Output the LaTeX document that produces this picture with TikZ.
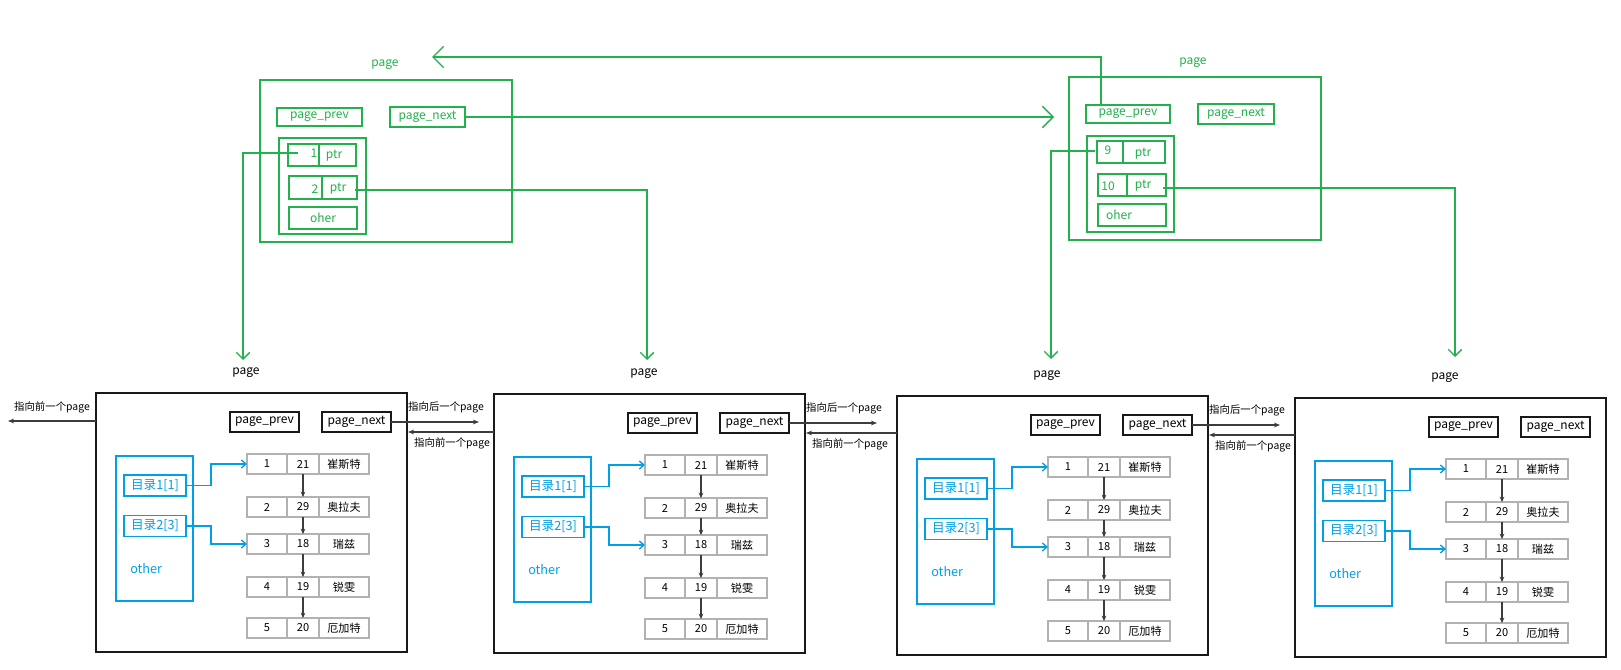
\documentclass[tikz,border=0pt]{standalone}
\usepackage{fontspec}
\setmainfont{Noto Sans CJK SC}
\usetikzlibrary{arrows.meta}
\definecolor{gr}{RGB}{34,177,76}
\definecolor{bl}{RGB}{0,160,230}
\definecolor{dk}{RGB}{60,60,60}
\begin{document}
\begin{tikzpicture}[x=0.75pt,y=-0.75pt,
  box/.style 2 args={draw, minimum width=#1*0.75pt, minimum height=#2*0.75pt, inner sep=0pt, outer sep=0pt},
  blk/.style={line width=1.4pt, draw=black!90},
  gbox/.style={draw=gr, line width=1.3pt, text=gr},
  bbox/.style={draw=bl, line width=1.3pt, text=bl},
  cell/.style={draw=black!30, line width=0.8pt, path picture={\draw[black!62,line width=1.8pt] (path picture bounding box.south west) -- (path picture bounding box.south east) -- (path picture bounding box.north east);}},
  lbl/.style={font=\fontsize{9}{10}\selectfont},
  blbl/.style={font=\fontsize{9.5}{10}\selectfont},
  small/.style={font=\fontsize{7.8}{9}\selectfont},
  tsmall/.style={font=\fontsize{8.3}{9}\selectfont},
  garr/.style={draw=gr, line width=1pt, -{Straight Barb[length=5pt,width=10pt]}},
  gbig/.style={draw=gr, line width=1pt, -{Straight Barb[length=8pt,width=16pt]}},
  barr/.style={draw=bl, line width=1pt, -{Straight Barb[length=3.5pt,width=6pt]}},
  darr/.style={draw=dk, line width=0.8pt, -{Stealth[length=4pt,width=3.5pt]}},
  karr/.style={draw=dk, line width=1pt, -{Stealth[length=4.5pt,width=3.5pt]}},
]
\fill[white] (0,0) rectangle (1621,670);
\useasboundingbox (0,0) rectangle (1621,670);

% ---------- bottom pages ----------
\foreach \i/\dx/\dy in {1/0/0,2/398/1,3/801/3,4/1199/5}{
 \begin{scope}[shift={(\dx,\dy)}]
  \node[box={311}{259}, blk] (p\i) at (251.5,522.5) {};
  \node[lbl] (p\i-lbl) at (246,373) {page};
  \node[box={69}{20}, blk, lbl] (p\i-prev) at (264.5,422) {page\_prev};
  \node[box={69}{20}, blk, lbl] (p\i-next) at (356.5,422) {page\_next};
  \node[box={77}{145}, bbox] (p\i-dir) at (154.5,528.5) {};
  \node[box={62}{21}, bbox, blbl] (p\i-d1) at (155,485.5) {目录1[1]};
  \node[box={62}{21}, bbox, blbl] (p\i-d2) at (155,526) {目录2[3]};
  \node[blbl, text=bl, anchor=west, inner sep=0pt] (p\i-oth) at (130,569) {other};
  \foreach \j/\ry/\n/\s/\nm in {1/464/1/21/崔斯特,2/507/2/29/奥拉夫,3/544/3/18/瑞兹,4/587/4/19/锐雯,5/628/5/20/厄加特}{
    \node[box={40}{20}, cell, tsmall] (p\i-r\j-a) at (267,\ry) {\n};
    \node[box={32}{20}, cell, tsmall] (p\i-r\j-b) at (303,\ry) {\s};
    \node[box={50}{20}, cell, tsmall] (p\i-r\j-c) at (344,\ry) {\nm};
  }
  \coordinate (p\i-fw) at (479,422);
  \coordinate (p\i-bk) at (408,432);
 \end{scope}
}

\foreach \i in {1,2,3,4}{
  \foreach \j/\k in {1/2,2/3,3/4,4/5}
    \draw[darr] (p\i-r\j-b.south) -- (p\i-r\k-b.north);
  \draw[barr] (p\i-d1.east) -- ++(25,0) |- (p\i-r1-a.west);
  \draw[barr] (p\i-d2.east) -- ++(25,0) |- (p\i-r3-a.west);
}

\foreach \i/\k/\dx/\dy in {1/2/0/0,2/3/398/1,3/4/801/3}{
  \draw[karr] (p\i-next.east) -- (p\i-fw);
  \draw[karr] (p\k.west |- p\i-bk) -- (p\i-bk);
  \node[small] (n\i-fwl) at (446+\dx,407+\dy) {指向后一个page};
  \node[small] (n\i-bkl) at (452+\dx,443+\dy) {指向前一个page};
}
\node[small] (l0) at (52,407) {指向前一个page};
\coordinate (l0end) at (8,421);
\draw[karr] (p1.west |- l0end) -- (l0end);

% ---------- green page 1 ----------
\node[lbl, text=gr] (g1-lbl) at (385,65) {page};
\node[box={252}{162}, gbox] (g1) at (386,161) {};
\node[box={85}{18}, gbox, lbl] (g1-prev) at (319.5,117) {page\_prev};
\node[box={75}{20}, gbox, lbl] (g1-next) at (427.5,117) {page\_next};
\node[box={87}{96}, gbox] (g1-in) at (322.5,186) {};
\node[box={68}{22}, gbox] (g1-r1) at (322,155) {};
\draw[gr, line width=1pt] (319,145) -- (319,165);
\node[lbl, text=gr] (g1-r1n) at (314,153) {1};
\node[lbl, text=gr] (g1-r1p) at (334,156) {ptr};
\node[box={68}{23}, gbox] (g1-r2) at (323,187.5) {};
\draw[gr, line width=1pt] (322,177) -- (322,198);
\node[lbl, text=gr] (g1-r2n) at (315,189) {2};
\node[lbl, text=gr] (g1-r2p) at (338,189) {ptr};
\node[box={68}{22}, gbox, lbl] (g1-oh) at (323,218) {oher};

% ---------- green page 2 ----------
\node[lbl, text=gr] (g2-lbl) at (1193,63) {page};
\node[box={252}{163}, gbox] (g2) at (1195,158.5) {};
\node[box={84}{18}, gbox, lbl] (g2-prev) at (1128,114) {page\_prev};
\node[box={76}{20}, gbox, lbl] (g2-next) at (1236,114) {page\_next};
\node[box={87}{96}, gbox] (g2-in) at (1130.5,184) {};
\node[box={68}{22}, gbox] (g2-r1) at (1131,152) {};
\draw[gr, line width=1pt] (1123,142) -- (1123,162);
\node[lbl, text=gr] (g2-r1n) at (1108,150) {9};
\node[lbl, text=gr] (g2-r1p) at (1143,154) {ptr};
\node[box={68}{22}, gbox] (g2-r2) at (1132,185) {};
\draw[gr, line width=1pt] (1127,175) -- (1127,195);
\node[lbl, text=gr] (g2-r2n) at (1108,186) {10};
\node[lbl, text=gr] (g2-r2p) at (1143,186) {ptr};
\node[box={68}{22}, gbox] (g2-oh) at (1132,215) {};
\node[lbl, text=gr] (g2-oht) at (1119,215) {oher};

% ---------- green connectors ----------
\coordinate (g1-s1) at (298,153);
\coordinate (g1-t1) at (243,360);
\draw[garr] (g1-s1) -| (g1-t1);
\coordinate (g1-s2) at (355,190);
\coordinate (g1-t2) at (647,360);
\draw[garr] (g1-s2) -| (g1-t2);
\coordinate (g2-s1) at (1095,151);
\coordinate (g2-t1) at (1051,359);
\draw[garr] (g2-s1) -| (g2-t1);
\coordinate (g2-s2) at (1163,188);
\coordinate (g2-t2) at (1455,357);
\draw[garr] (g2-s2) -| (g2-t2);
\coordinate (g2-in) at (1054,117);
\draw[gbig] (g1-next.east) -- (g2-in);
\coordinate (g2-ps) at (1101,105);
\coordinate (g1-back) at (432,57);
\draw[gbig] (g2-ps) |- (g1-back);
\end{tikzpicture}
\end{document}
